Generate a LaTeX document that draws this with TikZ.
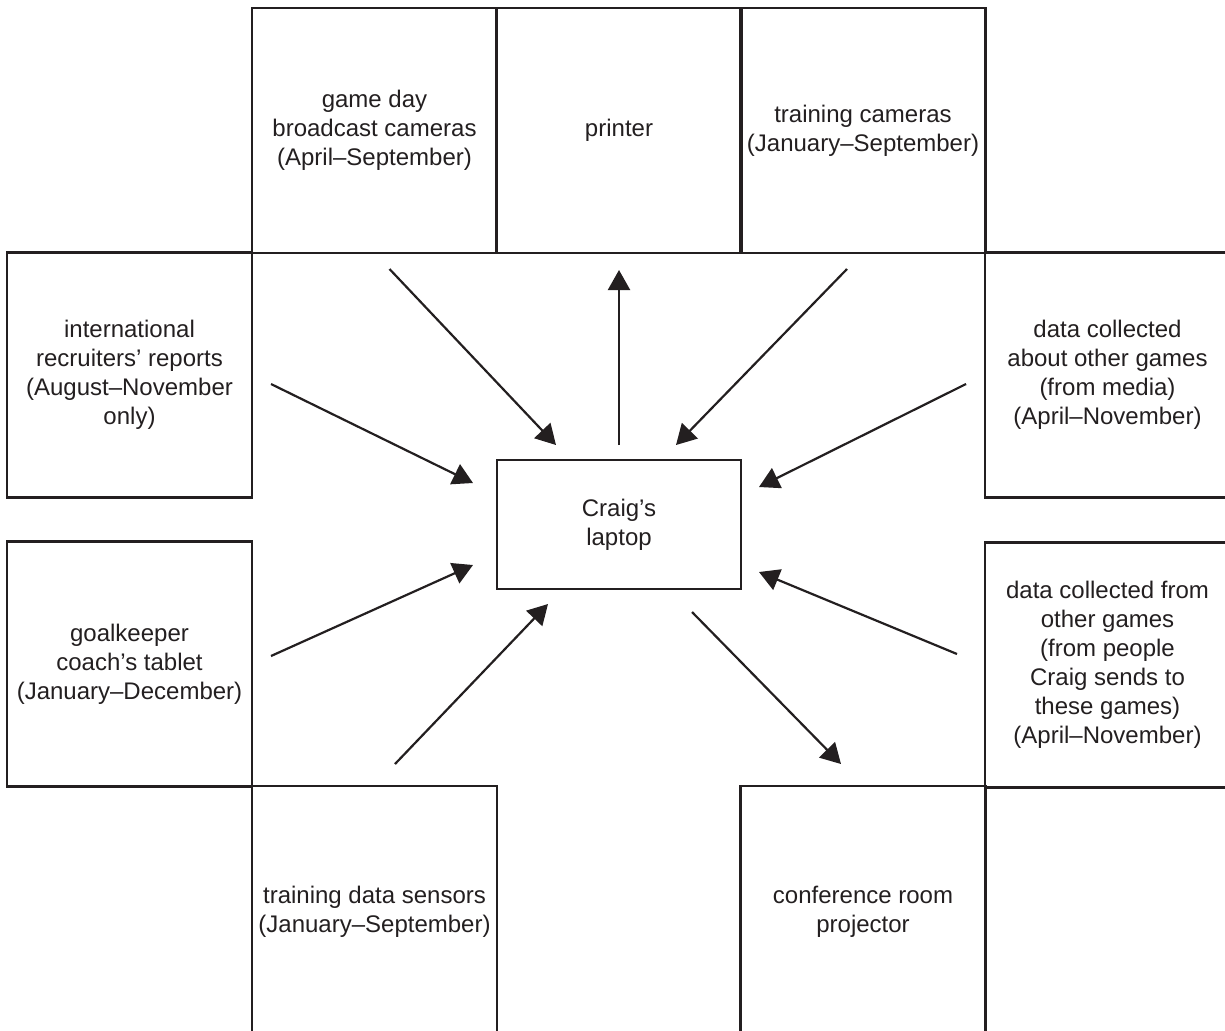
\documentclass[tikz,border=0pt]{standalone}
\usepackage{fontspec}
\setmainfont{Liberation Sans}
\usetikzlibrary{arrows.meta,calc}
\definecolor{ink}{RGB}{35,31,32}

\begin{document}
\begin{tikzpicture}[x=0.5pt, y=-0.5pt, color=ink]

\tikzstyle{every node} = [font=\fontsize{12}{14.5}\selectfont, text=ink, align=center, inner sep=0pt, outer sep=0pt]
\tikzstyle{source} = [rectangle, draw, line width=1.2pt, minimum width=122.5pt, minimum height=122.5pt]
\tikzstyle{device} = [rectangle, draw, line width=1.2pt, minimum width=122pt, minimum height=64.5pt]
\tikzstyle{flow} = [line width=1.1pt, -{Triangle[length=10pt, width=11pt]}]

\clip (0,0) rectangle (1225,1030);

\node[source] (gameday) at (374.5,130.5) {game day\\broadcast cameras\\(April–September)};
\node[source] (printer) at (619,130.5) {printer};
\node[source] (traincam) at (863,130.5) {training cameras\\(January–September)};

\node[source] (recruit) at (129.5,375) {international\\recruiters’ reports\\(August–November\\only)};
\node[source] (media) at (1107.5,375) {data collected\\about other games\\(from media)\\(April–November)};

\node[device] (laptop) at (619,524.5) {Craig’s\\laptop};

\node[source] (keeper) at (129.5,664) {goalkeeper\\coach’s tablet\\(January–December)};
\node[source] (scouts) at (1107.5,665) {data collected from\\other games\\(from people\\Craig sends to\\these games)\\(April–November)};

\node[source, minimum height=126pt] (sensors) at (374.5,912) {training data sensors\\(January–September)};
\node[source, minimum height=126pt] (projector) at (863,912) {conference room\\projector};

\draw[flow] ($(gameday.south)+(15,16)$) -- ($(laptop.north)+(-63,-15)$);
\draw[flow] ($(laptop.north)+(0,-15)$) -- ($(printer.south)+(0,17)$);
\draw[flow] ($(traincam.south)+(-16,16)$) -- ($(laptop.north)+(57,-15)$);

\draw[flow] ($(recruit.east)+(19,9)$) -- ($(laptop.west)+(-24,-41.5)$);
\draw[flow] ($(keeper.east)+(19,-8)$) -- ($(laptop.west)+(-24,40.5)$);
\draw[flow] ($(media.west)+(-19,9)$) -- ($(laptop.east)+(18,-37.5)$);
\draw[flow] ($(scouts.west)+(-28,-11)$) -- ($(laptop.east)+(18,47.5)$);

\draw[flow] ($(sensors.north)+(20.5,-22)$) -- ($(laptop.south)+(-71,15)$);
\draw[flow] ($(laptop.south)+(73,23)$) -- ($(projector.north)+(-22,-22)$);

\end{tikzpicture}
\end{document}
